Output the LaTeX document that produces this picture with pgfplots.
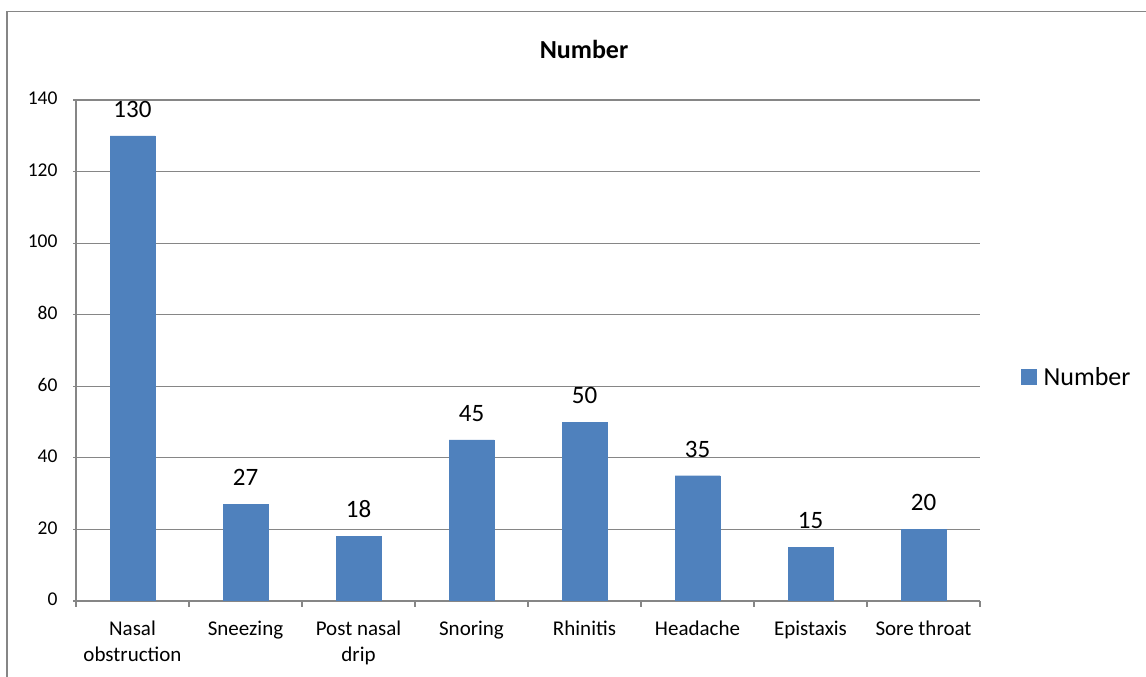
\documentclass[border=0pt]{standalone}
\usepackage{pgfplots}
\pgfplotsset{compat=1.18}
\usepackage{fontspec}
\setmainfont{Carlito}
\definecolor{barblue}{HTML}{4F81BD}
\definecolor{gridgray}{HTML}{868686}
\begin{document}
\begin{tikzpicture}[x=1pt,y=1pt]
\useasboundingbox (0,0) rectangle (1146,677);
\draw[gridgray, line width=1.8pt] (7,0) -- (7,665.5) -- (1146,665.5);
\begin{axis}[
  at={(76pt,76pt)}, anchor=south west,
  scale only axis, width=904pt, height=501pt,
  ymin=0, ymax=140, xmin=-0.5, xmax=7.5,
  ytick={0,20,40,60,80,100,120,140},
  yticklabels={0,20,40,60,80,100,120,140},
  xtick={0,...,7},
  xticklabels={{Nasal\\obstruction},Sneezing,{Post nasal\\drip},Snoring,Rhinitis,Headache,Epistaxis,{Sore throat}},
  typeset ticklabels with strut,
  xticklabel style={align=center, font=\fontsize{21}{26}\selectfont, anchor=north, yshift=-7pt},
  yticklabel style={font=\fontsize{19.5}{24}\selectfont, anchor=east, xshift=-12pt},
  minor xtick={-0.5,0.5,...,7.5},
  major x tick style={draw=none},
  minor x tick style={gridgray, line width=1.2pt},
  y tick style={gridgray, line width=1.2pt},
  major tick length=6pt, minor tick length=6pt,
  tick align=outside,
  axis lines=left,
  axis line style={-, gridgray, line width=1.2pt},
  ymajorgrids,
  grid style={gridgray, line width=1.2pt},
  /pgf/number format/assume math mode=true,
  ybar, bar width=45pt,
  nodes near coords,
  every node near coord/.append style={font=\fontsize{25}{30}\selectfont, text=black, yshift=15pt},
  title={\textbf{Number}},
  title style={at={(0.562,1.0898)}, anchor=center, font=\fontsize{26}{30}\selectfont},
  legend style={draw=none, at={(1.042,0.447)}, anchor=west, font=\fontsize{26}{30}\selectfont},
  legend image code/.code={\fill[barblue] (0pt,-7.5pt) rectangle (15pt,7.5pt);},
]
\addplot[fill=barblue, draw=barblue] coordinates {(0,130) (1,27) (2,18) (3,45) (4,50) (5,35) (6,15) (7,20)};
\addlegendentry{\hspace{5pt}Number}
\end{axis}
\end{tikzpicture}
\end{document}
